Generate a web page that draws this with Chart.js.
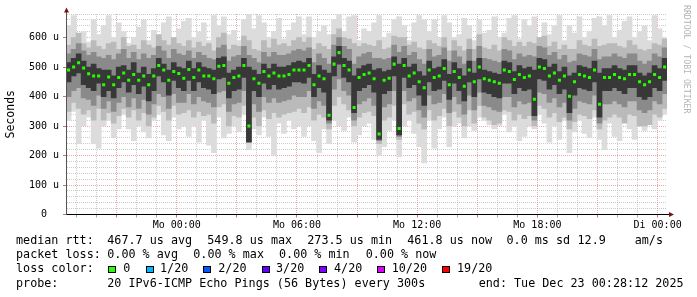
<!DOCTYPE html>
<html><head><meta charset="utf-8">
<script src="https://cdn.jsdelivr.net/npm/chart.js@4"></script>
<style>
html,body{margin:0;padding:0;background:#fff;}
#wrap{position:relative;width:697px;height:297px;overflow:hidden;background:#fff;}
#c{position:absolute;left:0;top:0;}
.t{position:absolute;font-family:'DejaVu Sans Mono',monospace;font-size:11.74px;line-height:11.74px;white-space:pre;color:#000;}
.sq{position:absolute;width:6px;height:5px;border:1px solid #000;top:266px;}
#wm{position:absolute;left:682px;top:5px;writing-mode:vertical-rl;font-family:'DejaVu Sans Mono',monospace;font-size:8.2px;line-height:10px;color:#b4b4b4;white-space:pre;}
</style></head>
<body>
<div id="wrap">
<canvas id="c" width="697" height="297"></canvas>
<div id="wm">RRDTOOL / TOBI OETIKER</div>
<span class="t" style="left:16px;top:235.1px">median rtt:</span>
<span class="t" style="left:107.3px;top:235.1px">467.7 us avg</span>
<span class="t" style="left:207.3px;top:235.1px">549.8 us max</span>
<span class="t" style="left:307.3px;top:235.1px">273.5 us min</span>
<span class="t" style="left:407.3px;top:235.1px">461.8 us now</span>
<span class="t" style="left:506.5px;top:235.1px">0.0 ms sd</span>
<span class="t" style="left:577.5px;top:235.1px">12.9</span>
<span class="t" style="left:634.7px;top:235.1px">am/s</span>
<span class="t" style="left:16px;top:249.4px">packet loss:</span>
<span class="t" style="left:107.3px;top:249.4px">0.00 % avg</span>
<span class="t" style="left:193.3px;top:249.4px">0.00 % max</span>
<span class="t" style="left:279px;top:249.4px">0.00 % min</span>
<span class="t" style="left:365.7px;top:249.4px">0.00 % now</span>
<span class="t" style="left:16px;top:263.4px">loss color:</span>
<span class="sq" style="left:107.5px;background:#26ff00"></span><span class="t" style="left:123.3px;top:263.4px">0</span>
<span class="sq" style="left:145.7px;background:#00b8ff"></span><span class="t" style="left:160px;top:263.4px">1/20</span>
<span class="sq" style="left:203.3px;background:#0059ff"></span><span class="t" style="left:218.3px;top:263.4px">2/20</span>
<span class="sq" style="left:261.5px;background:#5e00ff"></span><span class="t" style="left:276px;top:263.4px">3/20</span>
<span class="sq" style="left:319.3px;background:#7e00ff"></span><span class="t" style="left:334px;top:263.4px">4/20</span>
<span class="sq" style="left:376.7px;background:#dd00ff"></span><span class="t" style="left:391.7px;top:263.4px">10/20</span>
<span class="sq" style="left:442.3px;background:#ff0000"></span><span class="t" style="left:457px;top:263.4px">19/20</span>
<span class="t" style="left:16px;top:277.8px">probe:</span>
<span class="t" style="left:107.3px;top:277.8px">20 IPv6-ICMP Echo Pings (56 Bytes) every 300s</span>
<span class="t" style="left:478.7px;top:277.8px">end: Tue Dec 23 00:28:12 2025</span>
</div>
<script>
// time axis in hours relative to Mo 00:00; window Sun 18:28:12 .. Tue 00:28:12
const xMin = -5.5300;
const xMax = 24.4700;
const slotStartHour = -5.40;   // centre of first 15-minute slot
const slotHours = 0.25;
const xTickHours = [0, 6, 12, 18, 24];
const xTickLabels = ['Mo 00:00', 'Mo 06:00', 'Mo 12:00', 'Mo 18:00', 'Di 00:00'];
const yMax = 680;

// median RTT (us)
const medianRtt = [
 490,500,515,497,477,470,470,440,466,440,465,480,455,475,455,470,440,470,505,490,455,485,478,462,
 492,465,490,470,470,460,503,505,445,465,470,505,300,460,445,485,470,480,470,470,475,490,490,490,
 505,440,470,460,337,510,549,505,490,363,465,475,480,460,273,455,462,510,292,505,470,480,450,430,
 490,465,470,495,440,485,465,435,490,450,500,460,455,450,445,490,485,458,475,465,470,391,500,495,
 470,480,455,470,401,450,475,470,465,490,374,465,465,475,465,460,475,475,450,440,450,475,465,500
];
// smoke: outermost pings
const pingMax = [
 640,675,600,620,585,660,610,640,675,600,650,620,580,600,635,660,590,625,600,650,670,595,630,655,
 665,600,620,650,590,675,640,670,610,625,590,660,680,630,675,650,600,620,665,595,625,650,670,610,
 670,600,620,640,610,660,680,620,670,675,590,630,620,650,675,600,615,660,670,640,590,650,675,660,
 620,660,600,675,650,600,610,665,640,590,660,615,625,670,600,615,665,675,595,660,640,670,600,650,
 610,640,675,590,640,615,670,600,620,665,670,640,675,600,625,655,670,600,620,640,590,675,630,600
];
const pingMin = [
 320,350,240,300,330,240,225,300,320,260,290,340,290,250,300,280,260,320,340,270,250,330,290,300,
 265,300,245,320,235,210,330,260,275,300,280,340,220,290,270,330,265,200,310,275,320,290,300,265,
 300,250,210,290,240,320,300,285,330,245,270,300,310,255,200,230,285,320,195,300,320,275,230,175,
 320,225,290,330,230,300,310,260,300,285,330,320,305,290,300,340,280,300,250,265,300,290,340,310,
 245,300,255,320,210,280,320,275,260,330,255,220,310,265,250,320,290,255,300,285,330,290,320,340
];
// smoke: next pings inwards
const pingHigh = [
 575,600,615,580,565,590,570,560,580,585,560,600,570,575,560,590,575,565,610,590,575,600,580,570,
 590,565,585,570,580,555,600,615,560,575,570,605,590,560,555,590,565,595,575,580,570,590,600,585,
 600,560,580,570,560,610,630,600,595,580,570,580,575,570,590,560,565,605,600,600,575,585,565,560,
 590,580,570,600,555,590,570,555,595,560,610,565,560,575,555,600,590,570,585,570,585,580,600,605,
 570,585,560,575,560,560,590,575,570,595,570,575,580,580,570,565,590,575,560,555,560,580,575,595
];
const pingLow = [
 350,380,360,340,355,320,360,320,345,310,335,360,330,355,320,345,300,330,370,350,320,370,340,345,
 355,330,350,335,340,310,365,375,300,335,330,370,245,330,300,355,325,345,330,340,345,350,360,345,
 365,320,340,330,290,370,400,375,355,300,330,345,350,335,240,320,330,370,255,375,340,350,310,290,
 355,320,335,360,300,350,330,300,355,310,370,330,320,305,310,355,350,320,340,325,335,300,370,360,
 330,345,315,330,290,315,340,335,325,355,290,320,330,340,330,310,340,335,300,300,305,340,330,360
];
// smoke: quartile pings
const quartHigh = [
 545,560,580,555,540,550,535,530,540,525,545,560,530,550,525,545,530,540,570,555,530,560,545,540,
 555,530,550,540,530,525,565,575,520,535,540,570,540,530,515,550,535,550,540,540,545,555,560,555,
 565,515,545,530,510,575,600,570,560,510,535,545,550,530,530,525,530,575,550,570,540,550,525,510,
 560,535,540,565,520,555,535,510,560,520,570,530,525,520,515,560,555,525,545,535,540,535,570,565,
 540,550,525,540,515,520,545,540,535,560,525,535,535,545,535,530,545,545,520,510,520,545,535,565
];
const quartLow = [
 400,420,430,395,390,370,405,360,385,350,380,400,365,395,360,390,340,375,410,400,360,410,380,380,
 410,375,400,385,380,365,415,420,350,375,380,420,250,375,350,400,380,395,380,385,390,405,400,400,
 420,360,385,370,310,425,460,420,405,320,375,385,395,370,250,365,375,420,265,420,385,395,355,330,
 405,375,380,410,345,400,375,340,405,355,415,370,365,355,350,400,400,365,385,375,380,320,415,410,
 380,395,365,380,320,360,385,380,375,405,310,375,375,385,375,365,385,385,355,345,355,385,375,410
];
// smoke: inner pings around the median
const coreHigh = [
 515,530,545,520,500,510,495,490,490,470,500,505,490,515,480,500,475,495,530,510,490,515,500,495,
 520,495,515,500,495,490,530,535,480,490,500,530,500,490,475,510,495,510,500,500,505,515,520,515,
 530,475,505,490,480,535,570,530,520,470,495,505,510,490,495,485,490,535,510,530,500,510,485,470,
 520,495,500,525,475,515,495,470,520,480,530,490,485,480,475,520,515,485,505,495,500,490,530,525,
 500,510,485,500,470,480,505,500,495,520,480,495,495,505,495,490,505,505,480,470,480,505,495,530
];
const coreLow = [
 450,470,480,440,430,420,445,400,420,395,430,450,415,440,410,435,385,420,470,450,405,455,430,420,
 455,420,450,430,425,410,460,465,395,420,425,465,245,420,400,445,425,440,425,430,435,450,450,445,
 465,400,430,415,320,470,510,465,450,345,420,430,440,415,255,410,420,470,270,465,430,440,405,370,
 450,420,425,455,390,445,420,385,450,400,460,415,410,400,395,445,445,410,430,420,425,335,460,455,
 425,440,410,425,345,405,430,425,420,450,330,420,420,430,420,410,430,430,400,390,400,430,420,455
];

const times = medianRtt.map((_, i) => slotStartHour + i * slotHours);
const band = (lo, hi) => times.map((t, i) => ({x: t, y: [lo[i], hi[i]]}));

const majorGrid = 'rgba(222,100,100,0.55)';
const minorGrid = 'rgba(170,170,170,0.6)';
const tickFont = {family: 'DejaVu Sans Mono', size: 10};

const arrows = {
  id: 'arrows',
  afterDraw(chart) {
    const {ctx, chartArea: a} = chart;
    const yb = Math.floor(a.bottom);
    const xl = Math.floor(a.left);
    ctx.save();
    ctx.fillStyle = '#000';
    ctx.fillRect(Math.floor(a.right), yb, 3, 1);
    ctx.fillStyle = '#555';
    ctx.fillRect(xl, Math.floor(a.top) - 2, 1, 3);
    ctx.fillStyle = '#7a1414';
    ctx.beginPath();
    ctx.moveTo(a.right + 2, yb - 2);
    ctx.lineTo(a.right + 7, yb + 0.5);
    ctx.lineTo(a.right + 2, yb + 3);
    ctx.closePath();
    ctx.fill();
    ctx.beginPath();
    ctx.moveTo(xl - 2, a.top - 1.5);
    ctx.lineTo(xl + 0.5, a.top - 6.5);
    ctx.lineTo(xl + 3, a.top - 1.5);
    ctx.closePath();
    ctx.fill();
    ctx.restore();
  }
};

new Chart(document.getElementById('c'), {
  type: 'bar',
  data: {
    datasets: [
      {data: band(pingMin, pingMax), backgroundColor: '#dcdcdc', order: 6},
      {data: band(pingLow, pingHigh), backgroundColor: '#bababa', order: 5},
      {data: band(quartLow, quartHigh), backgroundColor: '#8a8a8a', order: 4},
      {data: band(coreLow, coreHigh), backgroundColor: '#383838', order: 3},
      {type: 'line', data: times.map((t, i) => ({x: t, y: medianRtt[i]})), showLine: false,
       pointStyle: 'rect', pointRadius: 2.13, pointBorderWidth: 0,
       pointBackgroundColor: '#26ff00', order: 1}
    ]
  },
  options: {
    responsive: false,
    animation: false,
    devicePixelRatio: 1,
    events: [],
    layout: {padding: {left: 0, top: 14, right: 30, bottom: 62.5}},
    datasets: {bar: {grouped: false, barPercentage: 1, categoryPercentage: 1, borderWidth: 0}},
    plugins: {legend: {display: false}, tooltip: {enabled: false}},
    scales: {
      x: {
        type: 'linear', min: xMin, max: xMax, offset: false,
        afterBuildTicks: s => { s.ticks = []; for (let h = Math.ceil(xMin); h <= xMax; h++) s.ticks.push({value: h}); },
        afterFit: s => { s.height = 20; },
        grid: {offset: false, lineWidth: 1, tickLength: 3,
               color: c => (c.tick && c.tick.value % 3 === 0) ? majorGrid : minorGrid,
               tickColor: c => (c.tick && c.tick.value % 3 === 0) ? '#d07070' : '#aaaaaa'},
        border: {display: true, color: '#000', width: 1, dash: [1, 1], z: 1},
        ticks: {autoSkip: false, maxRotation: 0, minRotation: 0, padding: 2, color: '#000', font: tickFont,
                callback: v => { const i = xTickHours.indexOf(v); return i >= 0 ? xTickLabels[i] : ''; }}
      },
      y: {
        min: 0, max: yMax,
        afterFit: s => { s.width = 66; },
        grid: {lineWidth: 1, tickLength: 3,
               color: c => !c.tick || c.tick.value === 0 ? 'rgba(0,0,0,0)' : (c.tick.value % 100 === 0 ? majorGrid : minorGrid),
               tickColor: c => (c.tick && c.tick.value % 100 === 0) ? '#d07070' : 'rgba(0,0,0,0)'},
        border: {display: true, color: '#555', width: 1, dash: [1, 1], z: 1},
        ticks: {stepSize: 20, autoSkip: false, padding: 4, color: '#000', font: tickFont,
                callback: v => v % 100 === 0 ? (v === 0 ? '0  ' : v + ' u') : ''},
        title: {display: true, text: 'Seconds', color: '#000', padding: {top: 4, bottom: 0},
                font: {family: 'DejaVu Sans Mono', size: 11.5}}
      }
    }
  },
  plugins: [arrows]
});
</script>
</body></html>
